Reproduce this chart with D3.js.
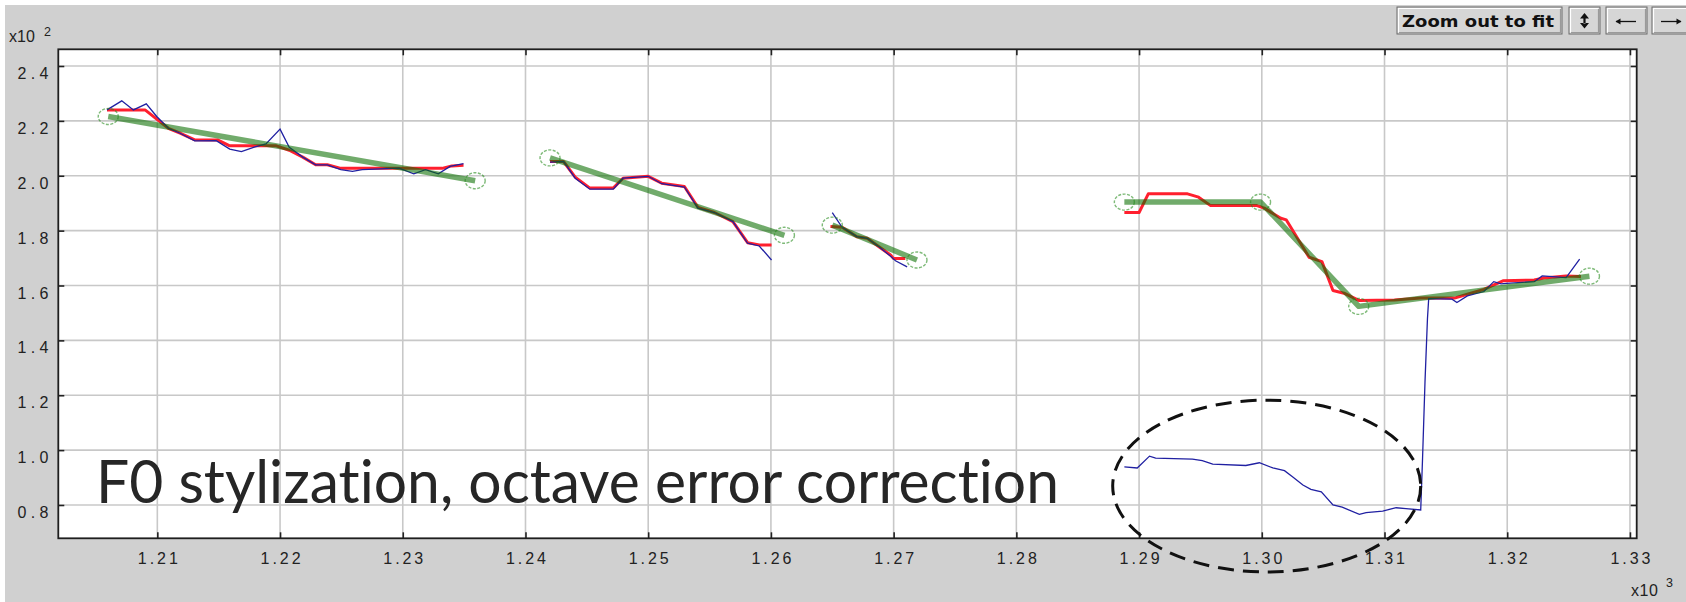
<!DOCTYPE html>
<html>
<head>
<meta charset="utf-8">
<script src="https://cdn.jsdelivr.net/npm/d3@7"></script>
<style>
  html, body { margin: 0; padding: 0; background: #ffffff; }
  svg { display: block; }
</style>
</head>
<body>
<svg id="chart" width="1686" height="602"></svg>
<script>
// Axis ticks: time (x10^3) and F0 in Hz (x10^2)
const xTickValues = [1210, 1220, 1230, 1240, 1250, 1260, 1270, 1280, 1290, 1300, 1310, 1320, 1330];
const yTickValues = [80, 100, 120, 140, 160, 180, 200, 220, 240];

// Raw pitch track (blue), one array per voiced stretch: [time, F0]
const rawSeg1 = [[1205.9,224.0],[1207.1,227.3],[1208.05,224.0],[1209.1,226.2],[1209.95,221.6],[1210.9,217.3],[1211.85,215.5],[1213.05,212.7],[1214.8,212.8],[1215.9,209.7],[1216.85,208.8],[1217.9,210.4],[1218.85,211.6],[1220.0,217.0],[1220.75,210.4],[1221.85,206.8],[1222.9,204.0],[1223.85,204.0],[1224.95,202.2],[1225.9,201.6],[1226.7,202.2],[1229.7,202.8],[1230.9,200.7],[1231.85,202.2],[1232.9,200.7],[1233.85,203.4],[1234.95,204.4]];
const rawSeg2 = [[1242.0,205.0],[1243.1,205.2],[1244.05,199.1],[1245.25,195.1],[1247.15,195.1],[1247.95,199.1],[1250.0,199.8],[1251.1,197.1],[1252.95,195.9],[1254.05,188.2],[1255.4,186.6],[1256.9,183.3],[1258.1,175.4],[1259.05,174.4],[1260.05,169.3]];
const rawSeg3 = [[1265.0,186.6],[1265.8,181.2],[1267.0,177.8],[1267.85,177.2],[1268.8,174.1],[1269.75,170.7],[1270.15,169.0],[1271.1,166.8]];
const rawSeg4 = [[1288.8,93.9],[1289.85,93.5],[1290.85,97.8],[1291.35,97.1],[1294.35,96.7],[1295.15,96.2],[1296.0,94.9],[1298.7,94.4],[1299.8,95.4],[1300.9,93.5],[1301.85,92.5],[1302.5,90.3],[1303.35,87.3],[1304.0,85.7],[1304.85,84.8],[1305.8,80.0],[1306.55,79.2],[1307.95,76.6],[1308.5,77.2],[1309.85,77.8],[1310.95,79.0],[1311.75,78.7],[1312.95,78.2],[1313.1,97.0],[1313.3,125.0],[1313.5,148.0],[1313.6,155.2],[1315.5,155.0],[1315.9,153.8],[1316.75,156.2],[1318.1,157.8],[1318.9,161.4],[1319.5,160.6],[1319.95,160.8],[1322.2,161.4],[1322.85,163.5],[1324.8,162.9],[1325.9,169.6]];

// Octave-corrected pitch track (red)
const fixedSeg1 = [[1205.9,224.0],[1209.0,224.0],[1210.9,217.3],[1211.85,215.5],[1213.05,213.1],[1214.95,213.0],[1215.9,210.9],[1219.7,210.9],[1220.75,209.3],[1221.85,206.8],[1222.9,204.0],[1223.85,204.0],[1224.95,202.7],[1233.2,202.7],[1234.0,203.6],[1234.95,203.8]];
const fixedSeg2 = [[1242.0,205.2],[1243.1,205.2],[1244.05,199.5],[1245.25,195.5],[1247.15,195.5],[1247.95,199.1],[1250.0,199.8],[1251.1,197.3],[1252.95,196.1],[1254.05,188.5],[1255.4,186.6],[1256.9,183.3],[1258.1,175.6],[1259.05,174.8],[1260.05,174.8]];
const fixedSeg3 = [[1264.85,181.5],[1265.8,181.2],[1267.0,177.8],[1267.85,177.2],[1268.8,174.1],[1269.75,171.1],[1270.0,169.8],[1270.95,169.8]];
const fixedSeg4 = [[1288.8,186.6],[1290.0,186.6],[1290.75,193.4],[1293.95,193.4],[1294.85,192.2],[1295.8,189.2],[1299.55,189.2],[1300.2,188.2],[1301.55,184.5],[1302.0,183.9],[1303.85,170.3],[1304.9,168.7],[1305.8,158.2],[1306.7,157.2],[1307.95,154.5],[1310.8,154.7],[1312.95,155.4],[1315.7,155.4],[1316.75,156.8],[1318.1,158.6],[1319.65,161.7],[1322.2,162.0],[1323.0,162.7],[1324.8,163.5],[1326.0,163.3]];

// Stylized contour (green): anchor points of each linear piece
const stylSeg1 = [[1206.0,221.6],[1235.9,198.2]];
const stylSeg2 = [[1242.0,206.5],[1261.1,178.3]];
const stylSeg3 = [[1265.0,182.0],[1271.9,169.3]];
const stylSeg4 = [[1288.8,190.4],[1299.9,190.4],[1307.9,152.4],[1326.7,163.4]];

// Highlighted region with the octave error: centre [time, F0] and radii
const errorRegion = { cx: 1300.4, cy: 86.9, rx: 12.55, ry: 31.3 };

const annotation = "F0 stylization, octave error correction";

const W = 1686, H = 602;
const plot = { left: 58.3, top: 49.3, right: 1636.7, bottom: 538.3 };

const svg = d3.select("#chart");

// Panel background (thin white margin at top and left)
svg.append("rect").attr("x", 0).attr("y", 0).attr("width", W).attr("height", H).attr("fill", "#ffffff");
svg.append("rect").attr("x", 5).attr("y", 5).attr("width", W - 5).attr("height", H - 5).attr("fill", "#d0d0d0");

const x = d3.scaleLinear().domain([1201.93, 1330.55]).range([plot.left, plot.right]);
const y = d3.scaleLinear().domain([67.86, 246.09]).range([plot.bottom, plot.top]);

// Plot area
svg.append("rect")
  .attr("x", plot.left).attr("y", plot.top)
  .attr("width", plot.right - plot.left).attr("height", plot.bottom - plot.top)
  .attr("fill", "#ffffff");

// Grid
const grid = svg.append("g").attr("stroke", "#c8c8c8").attr("stroke-width", 1.6);
grid.selectAll("line.vx").data(xTickValues).join("line")
  .attr("x1", d => x(d)).attr("x2", d => x(d))
  .attr("y1", plot.top).attr("y2", plot.bottom);
grid.selectAll("line.hy").data(yTickValues).join("line")
  .attr("x1", plot.left).attr("x2", plot.right)
  .attr("y1", d => y(d)).attr("y2", d => y(d));

// Axes with inward ticks on all four sides
const fmtX = d => (d / 1000).toFixed(2);
const fmtY = d => (d / 100).toFixed(1);
const tickLen = 6;

const axBottom = svg.append("g").attr("transform", `translate(0,${plot.bottom})`)
  .call(d3.axisBottom(x).tickValues(xTickValues).tickSize(-tickLen).tickFormat(fmtX).tickPadding(14));
const axTop = svg.append("g").attr("transform", `translate(0,${plot.top})`)
  .call(d3.axisTop(x).tickValues(xTickValues).tickSize(-tickLen).tickFormat(""));
const axLeft = svg.append("g").attr("transform", `translate(${plot.left},0)`)
  .call(d3.axisLeft(y).tickValues(yTickValues).tickSize(-tickLen).tickFormat(fmtY).tickPadding(10));
const axRight = svg.append("g").attr("transform", `translate(${plot.right},0)`)
  .call(d3.axisRight(y).tickValues(yTickValues).tickSize(-tickLen).tickFormat(""));

[axBottom, axTop, axLeft, axRight].forEach(a => {
  a.select(".domain").remove();
  a.selectAll(".tick line").attr("stroke", "#222").attr("stroke-width", 1.6);
});

axBottom.selectAll(".tick text")
  .attr("dy", null)
  .attr("y", 26)
  .attr("fill", "#222")
  .attr("font-family", "'Liberation Sans', Arial, sans-serif")
  .attr("font-size", 16)
  .attr("textLength", 40).attr("lengthAdjust", "spacing");

axLeft.selectAll(".tick text")
  .attr("dy", null)
  .attr("y", 12.5)
  .attr("x", -9.8)
  .attr("fill", "#222")
  .attr("font-family", "'Liberation Sans', Arial, sans-serif")
  .attr("font-size", 16)
  .attr("text-anchor", "end")
  .attr("textLength", 31).attr("lengthAdjust", "spacing");

// Frame
svg.append("rect")
  .attr("x", plot.left).attr("y", plot.top)
  .attr("width", plot.right - plot.left).attr("height", plot.bottom - plot.top)
  .attr("fill", "none").attr("stroke", "#1e1e1e").attr("stroke-width", 1.8);

// Exponent labels
const expFont = "'Liberation Sans', Arial, sans-serif";
svg.append("text").attr("x", 9).attr("y", 41.5)
  .attr("font-family", expFont).attr("font-size", 16).attr("fill", "#222")
  .attr("textLength", 26).attr("lengthAdjust", "spacing").text("x10");
svg.append("text").attr("x", 44).attr("y", 35.5).attr("font-family", expFont)
  .attr("font-size", 12.5).attr("fill", "#222").text("2");
svg.append("text").attr("x", 1631).attr("y", 596).attr("font-family", expFont)
  .attr("font-size", 16).attr("fill", "#222").text("x10")
  .attr("textLength", 27).attr("lengthAdjust", "spacing");
svg.append("text").attr("x", 1666).attr("y", 587).attr("font-family", expFont)
  .attr("font-size", 12.5).attr("fill", "#222").text("3");

// Curves
const line = d3.line().x(d => x(d[0])).y(d => y(d[1]));

const fixedSegs = [fixedSeg1, fixedSeg2, fixedSeg3, fixedSeg4];
const rawSegs = [rawSeg1, rawSeg2, rawSeg3, rawSeg4];
const stylSegs = [stylSeg1, stylSeg2, stylSeg3, stylSeg4];

svg.append("g").selectAll("path").data(fixedSegs).join("path")
  .attr("d", line).attr("fill", "none")
  .attr("stroke", "#ff1f2e").attr("stroke-width", 3).attr("stroke-linejoin", "round");

svg.append("g").selectAll("path").data(rawSegs).join("path")
  .attr("d", line).attr("fill", "none")
  .attr("stroke", "#2020a2").attr("stroke-width", 1.3);

svg.append("g").selectAll("path").data(stylSegs).join("path")
  .attr("d", line).attr("fill", "none")
  .attr("stroke", "rgb(10,110,0)").attr("stroke-opacity", 0.58)
  .attr("stroke-width", 5.5).attr("stroke-linejoin", "round");

// Anchor markers
svg.append("g").selectAll("ellipse").data(stylSegs.flat()).join("ellipse")
  .attr("cx", d => x(d[0])).attr("cy", d => y(d[1]))
  .attr("rx", 10).attr("ry", 8)
  .attr("fill", "none").attr("stroke", "rgb(40,140,30)").attr("stroke-opacity", 0.6)
  .attr("stroke-width", 1.4).attr("stroke-dasharray", "3,1.5");

// Annotation text
svg.append("text")
  .attr("x", 96).attr("y", 503)
  .attr("font-family", "Lato, 'Open Sans', sans-serif")
  .attr("font-size", 60)
  .attr("fill", "#262626")
  .style("font-variant-ligatures", "none")
  .attr("textLength", 963).attr("lengthAdjust", "spacingAndGlyphs")
  .text(annotation);

// Dashed ellipse around the octave error
svg.append("ellipse")
  .attr("cx", x(errorRegion.cx)).attr("cy", y(errorRegion.cy))
  .attr("rx", x(errorRegion.cx + errorRegion.rx) - x(errorRegion.cx))
  .attr("ry", y(errorRegion.cy - errorRegion.ry) - y(errorRegion.cy))
  .attr("fill", "none").attr("stroke", "#111").attr("stroke-width", 3)
  .attr("stroke-dasharray", "16,9");

// Toolbar buttons
function button(bx, by, bw, bh) {
  const g = svg.append("g");
  g.append("rect").attr("x", bx).attr("y", by).attr("width", bw).attr("height", bh)
    .attr("fill", "#d6d6d6").attr("stroke", "#6a6a6a").attr("stroke-width", 1);
  g.append("path").attr("d", `M${bx + 1.5},${by + bh - 1.5} V${by + 1.5} H${bx + bw - 1.5}`)
    .attr("fill", "none").attr("stroke", "#ffffff").attr("stroke-width", 1.2);
  g.append("path").attr("d", `M${bx + 2},${by + bh - 1.5} H${bx + bw - 1.5} V${by + 2}`)
    .attr("fill", "none").attr("stroke", "#9a9a9a").attr("stroke-width", 1.2);
  return g;
}
const b1 = button(1397, 7, 165, 27);
b1.append("text").attr("x", 1402).attr("y", 26.5)
  .attr("font-family", "'DejaVu Sans', Verdana, sans-serif").attr("font-weight", "bold")
  .attr("font-size", 15).attr("fill", "#111")
  .attr("textLength", 152).attr("lengthAdjust", "spacingAndGlyphs")
  .text("Zoom out to fit");

const b2 = button(1569, 7, 31, 27);
b2.append("path")
  .attr("d", "M1580,18.5 L1584.5,13 L1589,18.5 Z M1580,23 L1584.5,28.5 L1589,23 Z M1583.4,18 H1585.6 V23.5 H1583.4 Z")
  .attr("fill", "#111");

const b3 = button(1606, 7, 41, 27);
b3.append("path").attr("d", "M1616,21.5 H1636").attr("stroke", "#111").attr("stroke-width", 1.3);
b3.append("path").attr("d", "M1620.5,18.5 L1615.5,21.5 L1620.5,24.5 Z").attr("fill", "#111");

const b4 = button(1652, 7, 40, 27);
b4.append("path").attr("d", "M1661,21.5 H1681").attr("stroke", "#111").attr("stroke-width", 1.3);
b4.append("path").attr("d", "M1676.5,18.5 L1681.5,21.5 L1676.5,24.5 Z").attr("fill", "#111");
</script>
</body>
</html>
